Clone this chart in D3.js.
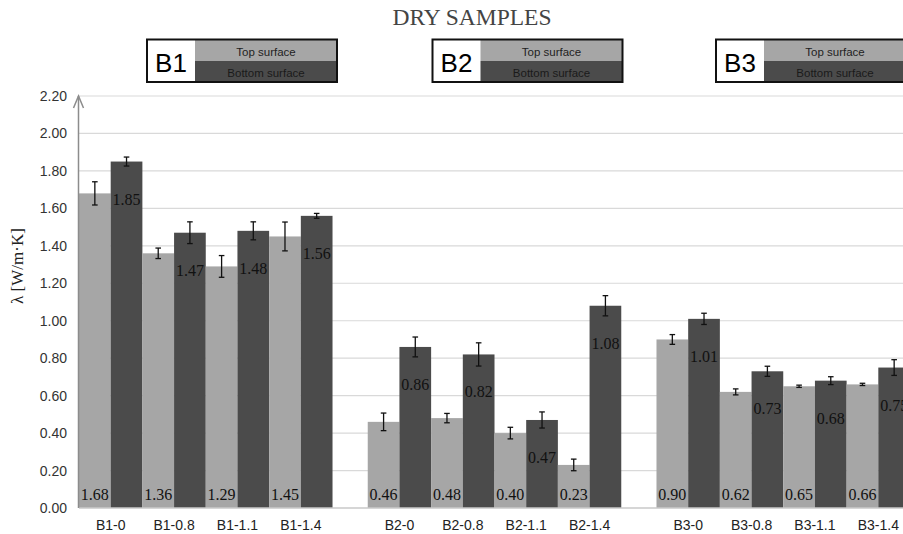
<!DOCTYPE html>
<html>
<head>
<meta charset="utf-8">
<script src="https://cdn.jsdelivr.net/npm/d3@7"></script>
<style>
  html, body { margin: 0; padding: 0; background: #fff; }
  svg { display: block; }
</style>
</head>
<body>
<svg id="chart" width="903" height="534"></svg>
<script>
// ---------- DATA ----------
const title = "DRY SAMPLES";
const yTitle = "λ [W/m·K]";
const groups = ["B1", "B2", "B3"];
const samples = ["0", "0.8", "1.1", "1.4"];
const seriesNames = ["Top surface", "Bottom surface"];
const yTicks = [0, 0.2, 0.4, 0.6, 0.8, 1.0, 1.2, 1.4, 1.6, 1.8, 2.0, 2.2];

const topValues    = [1.68, 1.36, 1.29, 1.45, 0.46, 0.48, 0.40, 0.23, 0.90, 0.62, 0.65, 0.66];
const bottomValues = [1.85, 1.47, 1.48, 1.56, 0.86, 0.82, 0.47, 1.08, 1.01, 0.73, 0.68, 0.75];
const topErrors    = [0.062, 0.028, 0.058, 0.077, 0.047, 0.025, 0.031, 0.031, 0.026, 0.016, 0.006, 0.006];
const bottomErrors = [0.024, 0.058, 0.048, 0.013, 0.053, 0.062, 0.043, 0.054, 0.030, 0.027, 0.021, 0.042];

// ---------- BUILD ----------
const rows = [];
groups.forEach((g, gi) => {
  samples.forEach((s, si) => {
    const i = gi * samples.length + si;
    rows.push({
      group: g, sample: s, name: g + "-" + s,
      top: topValues[i], bottom: bottomValues[i],
      topErr: topErrors[i], bottomErr: bottomErrors[i]
    });
  });
});

const W = 903, H = 534;
const svg = d3.select("#chart");
const colors = { "Top surface": "#a6a6a6", "Bottom surface": "#4b4b4b" };

const plotLeft = 79, plotRight = 910, plotTop = 96, plotBottom = 508;

const y = d3.scaleLinear().domain([0, 2.2]).range([plotBottom, plotTop]);
const xGroup = d3.scaleBand().domain(groups).range([plotLeft, plotRight]).paddingInner(0.122).paddingOuter(0);
const xSample = d3.scaleBand().domain(samples).range([0, xGroup.bandwidth()]).padding(0);
const xSeries = d3.scaleBand().domain(seriesNames).range([0, xSample.bandwidth()]).padding(0);

// Title
svg.append("text")
  .attr("x", 472).attr("y", 25)
  .attr("text-anchor", "middle")
  .attr("font-family", "'Liberation Serif', 'Times New Roman', serif")
  .attr("font-size", 23.5)
  .attr("fill", "#444")
  .text(title);

// Gridlines
svg.append("g").selectAll("line")
  .data(yTicks.filter(t => t > 0))
  .join("line")
  .attr("x1", plotLeft).attr("x2", W)
  .attr("y1", d => y(d)).attr("y2", d => y(d))
  .attr("stroke", "#d9d9d9").attr("stroke-width", 1.2);

// Y axis tick labels
const yAxis = d3.axisLeft(y).tickValues(yTicks).tickFormat(d3.format(".2f")).tickSize(0).tickPadding(12);
const gy = svg.append("g").attr("transform", `translate(${plotLeft},0)`).call(yAxis);
gy.select(".domain").remove();
gy.selectAll("text")
  .attr("font-family", "'Liberation Sans', Arial, sans-serif")
  .attr("font-size", 14).attr("fill", "#333");

// Bars
const cat = svg.append("g");
const catG = cat.selectAll("g.cat").data(rows).join("g")
  .attr("class", "cat")
  .attr("transform", d => `translate(${xGroup(d.group) + xSample(d.sample)},0)`);

const barData = d => [
  { s: "Top surface", v: d.top, e: d.topErr },
  { s: "Bottom surface", v: d.bottom, e: d.bottomErr }
];

catG.selectAll("rect").data(barData).join("rect")
  .attr("x", b => xSeries(b.s))
  .attr("y", b => y(b.v))
  .attr("width", xSeries.bandwidth())
  .attr("height", b => y(0) - y(b.v))
  .attr("fill", b => colors[b.s]);

// Error bars
const eb = catG.selectAll("g.err").data(barData).join("g").attr("class", "err")
  .attr("stroke", "#111").attr("stroke-width", 1.3);
eb.append("line")
  .attr("x1", b => xSeries(b.s) + xSeries.bandwidth() / 2)
  .attr("x2", b => xSeries(b.s) + xSeries.bandwidth() / 2)
  .attr("y1", b => y(b.v + b.e)).attr("y2", b => y(b.v - b.e));
eb.append("line")
  .attr("x1", b => xSeries(b.s) + xSeries.bandwidth() / 2 - 2.8)
  .attr("x2", b => xSeries(b.s) + xSeries.bandwidth() / 2 + 2.8)
  .attr("y1", b => y(b.v + b.e)).attr("y2", b => y(b.v + b.e));
eb.append("line")
  .attr("x1", b => xSeries(b.s) + xSeries.bandwidth() / 2 - 2.8)
  .attr("x2", b => xSeries(b.s) + xSeries.bandwidth() / 2 + 2.8)
  .attr("y1", b => y(b.v - b.e)).attr("y2", b => y(b.v - b.e));

// Data labels
catG.selectAll("text.lbl").data(barData).join("text")
  .attr("class", "lbl")
  .attr("x", b => xSeries(b.s) + xSeries.bandwidth() / 2)
  .attr("y", b => b.s === "Top surface" ? y(0) - 8 : y(b.v) + 43)
  .attr("text-anchor", "middle")
  .attr("font-family", "'Liberation Serif', 'Times New Roman', serif")
  .attr("font-size", 16)
  .attr("fill", "#111")
  .text(b => d3.format(".2f")(b.v));

// X axis baseline
svg.append("line")
  .attr("x1", plotLeft).attr("x2", W)
  .attr("y1", y(0)).attr("y2", y(0))
  .attr("stroke", "#c8c8c8").attr("stroke-width", 1.3);

// Y axis line with arrow
svg.append("line")
  .attr("x1", plotLeft - 0.5).attr("x2", plotLeft - 0.5)
  .attr("y1", y(0)).attr("y2", y(2.2))
  .attr("stroke", "#8c8c8c").attr("stroke-width", 1.5);
svg.append("path")
  .attr("d", `M${plotLeft - 5.5},${y(2.2) + 12} L${plotLeft - 0.5},${y(2.2)} L${plotLeft + 4.5},${y(2.2) + 12}`)
  .attr("fill", "none").attr("stroke", "#8c8c8c").attr("stroke-width", 1.5);

// X category labels
svg.append("g").selectAll("text").data(rows).join("text")
  .attr("x", d => xGroup(d.group) + xSample(d.sample) + xSample.bandwidth() / 2)
  .attr("y", 530)
  .attr("text-anchor", "middle")
  .attr("font-family", "'Liberation Sans', Arial, sans-serif")
  .attr("font-size", 14).attr("fill", "#222")
  .text(d => d.name);

// Y title
svg.append("text")
  .attr("transform", `translate(23,266) rotate(-90)`)
  .attr("text-anchor", "middle")
  .attr("font-family", "'Liberation Serif', 'Times New Roman', serif")
  .attr("font-size", 17).attr("fill", "#222")
  .text(yTitle);

// Legend boxes
const legendX = [147, 432.5, 716];
const lw = 48, cw = 142, lt = 39.5, lh = 42.5, split = 21.5;
groups.forEach((g, i) => {
  const lg = svg.append("g").attr("transform", `translate(${legendX[i]},${lt})`);
  lg.append("rect").attr("x", 0).attr("y", 0).attr("width", lw).attr("height", lh).attr("fill", "#fff");
  lg.append("rect").attr("x", lw).attr("y", 0).attr("width", cw).attr("height", split).attr("fill", colors[seriesNames[0]]);
  lg.append("rect").attr("x", lw).attr("y", split).attr("width", cw).attr("height", lh - split).attr("fill", colors[seriesNames[1]]);
  lg.append("rect").attr("x", 0).attr("y", 0).attr("width", lw + cw).attr("height", lh)
    .attr("fill", "none").attr("stroke", "#111").attr("stroke-width", 2);
  lg.append("text").attr("x", lw / 2).attr("y", 32.2)
    .attr("text-anchor", "middle")
    .attr("font-family", "'Liberation Sans', Arial, sans-serif")
    .attr("font-size", 26).attr("fill", "#000").text(g);
  lg.append("text").attr("x", lw + cw / 2).attr("y", 16.3)
    .attr("text-anchor", "middle")
    .attr("font-family", "'Liberation Sans', Arial, sans-serif")
    .attr("font-size", 11.5).attr("fill", "#222").text(seriesNames[0]);
  lg.append("text").attr("x", lw + cw / 2).attr("y", 37.5)
    .attr("text-anchor", "middle")
    .attr("font-family", "'Liberation Sans', Arial, sans-serif")
    .attr("font-size", 11.5).attr("fill", "#1a1a1a").text(seriesNames[1]);
});
</script>
</body>
</html>
